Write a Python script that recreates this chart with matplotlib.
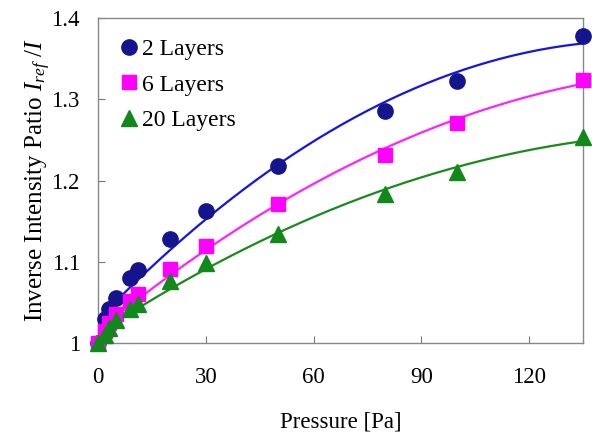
import numpy as np
import matplotlib
matplotlib.use('Agg')
import matplotlib.pyplot as plt
from matplotlib.ticker import FuncFormatter

plt.rcParams['font.family'] = 'Liberation Serif'
plt.rcParams['mathtext.fontset'] = 'custom'
plt.rcParams['mathtext.rm'] = 'Liberation Serif'
plt.rcParams['mathtext.it'] = 'Liberation Serif:italic'

# pressure [Pa]
pressure = [0, 2, 3, 5, 9, 11, 20, 30, 50, 80, 100, 135]

# inverse intensity ratio I_ref / I
layers_2 = [1.0, 1.030, 1.042, 1.055, 1.080, 1.090, 1.128, 1.163, 1.218, 1.285, 1.323, 1.378]
layers_6 = [1.0, 1.015, 1.025, 1.036, 1.052, 1.060, 1.091, 1.120, 1.171, 1.232, 1.271, 1.324]
layers_20 = [1.0, 1.010, 1.018, 1.028, 1.042, 1.048, 1.076, 1.098, 1.134, 1.183, 1.210, 1.254]

series_labels = ['2 Layers', '6 Layers', '20 Layers']
x_ticks = [0, 30, 60, 90, 120]
y_ticks = [1.0, 1.1, 1.2, 1.3, 1.4]

fig = plt.figure(figsize=(5.92, 4.36), dpi=100)
ax = fig.add_axes([0.1655, 0.2133, 0.8195, 0.7454])

styles = [
    dict(marker='o', mfc='#14148c', mec='#14148c', ms=11, line='#1414e6'),
    dict(marker='s', mfc='#ff00ff', mec='#ff00ff', ms=10, line='#ff22ff'),
    dict(marker='^', mfc='#10881a', mec='#10881a', ms=11, line='#1a8a1a'),
]

x = np.array(pressure, dtype=float)
xs = np.linspace(0, max(pressure), 200)
for vals, lab, st in zip([layers_2, layers_6, layers_20], series_labels, styles):
    y = np.array(vals)
    coef = np.polyfit(x, y, 2)
    ax.plot(xs, np.polyval(coef, xs), color=st['line'], lw=1.6, zorder=2)
    ax.plot(x, y, linestyle='none', marker=st['marker'], ms=st['ms'],
            mfc=st['mfc'], mec=st['mec'], label=lab, clip_on=False, zorder=3)

ax.set_xlim(0, 135)
ax.set_ylim(1.0, 1.4)
ax.set_xticks(x_ticks)
ax.set_yticks(y_ticks)
ax.yaxis.set_major_formatter(FuncFormatter(lambda v, p: '%g' % v))
ax.tick_params(direction='in', length=5, width=0.8, color='#777777',
               labelsize=16.5, pad=13)
ax.tick_params(axis='x', pad=17)
for sp in ax.spines.values():
    sp.set_color('#888888')
    sp.set_linewidth(1.0)

ax.set_xlabel('Pressure [Pa]', fontsize=16.5, labelpad=17)
ax.set_ylabel(r'Inverse Intensity Patio $I_{ref}\ /I$', fontsize=18, labelpad=-1)

leg = ax.legend(loc='upper left', frameon=False, fontsize=17, handlelength=0.8,
                handletextpad=0.15, labelspacing=0.58, borderaxespad=0.0,
                bbox_to_anchor=(0.025, 0.965))

fig.savefig('out.png', dpi=100)
